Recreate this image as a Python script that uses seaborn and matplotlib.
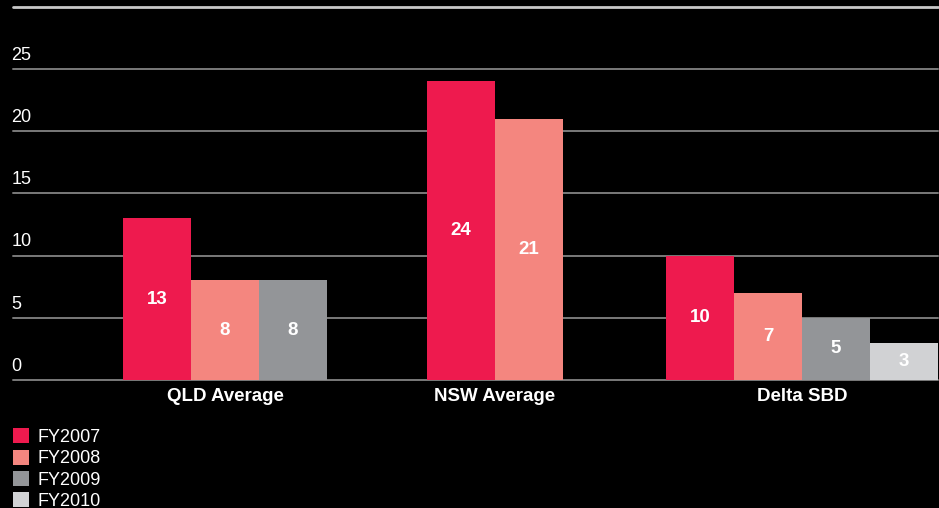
import matplotlib
matplotlib.use("Agg")
import matplotlib.pyplot as plt
from matplotlib.patches import Patch
import seaborn as sns
import pandas as pd

# Values per region, one entry per financial year reported
categories = ["QLD Average", "NSW Average", "Delta SBD"]
years = ["FY2007", "FY2008", "FY2009", "FY2010"]
qld_values = [13, 8, 8]
nsw_values = [24, 21]
delta_values = [10, 7, 5, 3]
y_ticks = [0, 5, 10, 15, 20, 25]

colors = ["#EE1A4E", "#F4867F", "#939598", "#D1D2D4"]

# Layout: left edge of each group's first bar, and bar width (pixel-like x scale)
group_starts = [123, 427, 666]
bar_w = 68

sns.set_theme(style="dark")
plt.rcParams["font.family"] = ["Liberation Sans Narrow", "Liberation Sans", "DejaVu Sans"]

rows = []
centers = []
for start, cat, vals in zip(group_starts, categories, [qld_values, nsw_values, delta_values]):
    xs = [start + bar_w * i + bar_w / 2 for i in range(len(vals))]
    centers.append(sum(xs) / len(xs))
    for x, yr, v in zip(xs, years, vals):
        rows.append({"pos": x, "value": v, "year": yr, "region": cat})
df = pd.DataFrame(rows)

fig = plt.figure(figsize=(9.39, 5.08), dpi=100, facecolor="black")
ax = fig.add_axes([13 / 939, (508 - 380) / 508, 925 / 939, (380 - 6.5) / 508])
ax.set_facecolor("black")

sns.barplot(data=df, x="pos", y="value", hue="year", hue_order=years,
            palette=colors, native_scale=True, dodge=False, width=1.0,
            saturation=1, legend=False, ax=ax, linewidth=0)

ax.set_xlim(13, 938)
ax.set_ylim(0, 30)
for s in ax.spines.values():
    s.set_visible(False)

# Horizontal rules
for v in y_ticks + [30]:
    top = v == 30
    ax.axhline(v, color="#c8c8c8" if top else "#7a7a7a", lw=2.0 if top else 1.4,
               zorder=0.5, clip_on=False)

# Value labels at the vertical centre of each bar
for cont in ax.containers:
    ax.bar_label(cont, fmt="%d", label_type="center", color="white",
                 fontsize=13.5, fontweight="bold")

# Y labels sit just above their rule at the left edge
ax.set_yticks([])
for v in y_ticks:
    ax.annotate(str(v), xy=(0, v), xycoords=("axes fraction", "data"),
                xytext=(-1.5, 5), textcoords="offset pixels",
                ha="left", va="bottom", color="white", fontsize=13)

ax.set_xticks(centers)
ax.set_xticklabels(categories, color="white", fontsize=13.5, fontweight="bold")
ax.tick_params(axis="x", length=0, pad=6)
ax.set_xlabel("")
ax.set_ylabel("")
ax.grid(False)

handles = [Patch(facecolor=c, edgecolor="none") for c in colors]
fig.legend(handles, years, loc="upper left", bbox_to_anchor=(6 / 939, 1 - 421 / 508),
           frameon=False, fontsize=13, labelcolor="white", handlelength=0.9,
           handleheight=0.9, handletextpad=0.45, labelspacing=0.2, borderaxespad=0)

fig.savefig("out.png", dpi=100, facecolor="black")
